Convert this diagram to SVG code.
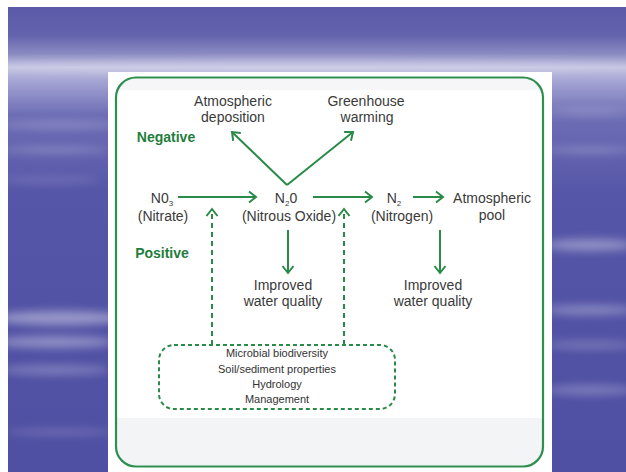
<svg xmlns="http://www.w3.org/2000/svg" width="626" height="472" viewBox="0 0 626 472">
<defs>
<linearGradient id="bg" x1="0" y1="0" x2="0" y2="1" gradientUnits="objectBoundingBox">
<stop offset="0" stop-color="#5a5aa8"/>
<stop offset="0.06" stop-color="#6262ad"/>
<stop offset="0.1" stop-color="#8a8ac2"/>
<stop offset="0.13" stop-color="#c3c3e2"/>
<stop offset="0.16" stop-color="#a4a4d3"/>
<stop offset="0.23" stop-color="#6e6eb6"/>
<stop offset="0.4" stop-color="#5656a8"/>
<stop offset="1" stop-color="#4f4fa3"/>
</linearGradient>
<filter id="blur" x="-50%" y="-300%" width="200%" height="700%"><feGaussianBlur stdDeviation="5 4"/></filter>
<clipPath id="inner"><rect x="117" y="78.5" width="425" height="387" rx="19"/></clipPath>
<marker id="ah" viewBox="-9 -7 11 14" refX="0" refY="0" markerWidth="11" markerHeight="14" markerUnits="userSpaceOnUse" orient="auto">
<path d="M-7,-5.5 L0,0 L-7,5.5" fill="none" stroke="#2a8a48" stroke-width="2" stroke-linejoin="miter"/>
</marker>
</defs>
<style>
.lbl{font-family:"Liberation Sans","DejaVu Sans",sans-serif;font-size:14px;fill:#3a3a3a;text-anchor:middle}
.sub{font-size:8px}
.grn{font-family:"Liberation Sans","DejaVu Sans",sans-serif;font-size:14px;font-weight:bold;fill:#1f7d3c;text-anchor:middle}
.box{font-family:"Liberation Sans","DejaVu Sans",sans-serif;font-size:11px;fill:#333;text-anchor:middle}
.ar{fill:none;stroke:#2a8a48;stroke-width:2;marker-end:url(#ah)}
.da{fill:none;stroke:#2a8a48;stroke-width:2;stroke-dasharray:5 4;marker-end:url(#ah)}
</style>
<rect width="626" height="472" fill="#ffffff"/>
<rect x="8" y="7" width="618" height="465" fill="url(#bg)"/>
<g filter="url(#blur)" fill="#ffffff">
<ellipse cx="300" cy="66" rx="340" ry="6" opacity="0.2"/>
<ellipse cx="60" cy="125" rx="60" ry="3" opacity="0.25"/>
<ellipse cx="55" cy="150" rx="55" ry="3" opacity="0.25"/>
<ellipse cx="50" cy="180" rx="50" ry="3" opacity="0.15"/>
<ellipse cx="60" cy="318" rx="65" ry="7" opacity="0.4"/>
<ellipse cx="55" cy="342" rx="60" ry="6" opacity="0.35"/>
<ellipse cx="55" cy="370" rx="55" ry="5" opacity="0.25"/>
<ellipse cx="60" cy="432" rx="55" ry="3" opacity="0.2"/>
<ellipse cx="590" cy="112" rx="45" ry="3" opacity="0.25"/>
<ellipse cx="590" cy="150" rx="45" ry="3" opacity="0.25"/>
<ellipse cx="590" cy="245" rx="45" ry="6" opacity="0.35"/>
<ellipse cx="590" cy="310" rx="45" ry="5" opacity="0.3"/>
<ellipse cx="590" cy="345" rx="45" ry="4" opacity="0.22"/>
<ellipse cx="590" cy="390" rx="45" ry="5" opacity="0.25"/>
</g>
<rect x="108" y="72" width="444" height="400" fill="#ffffff"/>
<g clip-path="url(#inner)">
<rect x="117" y="78" width="425" height="12" fill="#f6f6f8"/>
<rect x="117" y="418" width="425" height="50" fill="#f3f4f6"/>
</g>
<rect id="frame" x="116" y="77.5" width="427" height="389" rx="20" fill="none" stroke="#2e8f50" stroke-width="2.2"/>

<g id="connectors">
<path class="ar" d="M178,197 L256,197"/>
<path class="ar" d="M313,197 L372,197"/>
<path class="ar" d="M413,197 L443,197"/>
<path class="ar" d="M287,185 L232,132"/>
<path class="ar" d="M287,185 L353,132"/>
<path class="ar" d="M288,230 L288,273"/>
<path class="ar" d="M440,230 L440,273"/>
<path class="da" d="M212,345 L212,209"/>
<path class="da" d="M344,345 L344,209"/>
</g>

<g id="atm-deposition"><text class="lbl" x="233" y="106">Atmospheric</text><text class="lbl" x="233" y="122">deposition</text></g>
<g id="greenhouse"><text class="lbl" x="366" y="106">Greenhouse</text><text class="lbl" x="367" y="122">warming</text></g>
<g id="negative"><text class="grn" x="166" y="142">Negative</text></g>
<g id="positive"><text class="grn" x="162" y="258">Positive</text></g>
<g id="nitrate"><text class="lbl" x="162" y="203">N0<tspan class="sub" dy="3">3</tspan></text><text class="lbl" x="163" y="221">(Nitrate)</text></g>
<g id="nitrous-oxide"><text class="lbl" x="286" y="203">N<tspan class="sub" dy="3">2</tspan><tspan dy="-3">0</tspan></text><text class="lbl" x="289" y="221">(Nitrous Oxide)</text></g>
<g id="nitrogen"><text class="lbl" x="394" y="203">N<tspan class="sub" dy="3">2</tspan></text><text class="lbl" x="402" y="221">(Nitrogen)</text></g>
<g id="atm-pool"><text class="lbl" x="492" y="203">Atmospheric</text><text class="lbl" x="492" y="220">pool</text></g>
<g id="water-quality-1"><text class="lbl" x="283" y="290">Improved</text><text class="lbl" x="283" y="306">water quality</text></g>
<g id="water-quality-2"><text class="lbl" x="433" y="290">Improved</text><text class="lbl" x="433" y="306">water quality</text></g>
<g id="factors">
<rect x="159" y="345" width="236" height="64" rx="15" fill="none" stroke="#2a8a48" stroke-width="2" stroke-dasharray="4 3"/>
<text class="box" x="277" y="357">Microbial biodiversity</text>
<text class="box" x="277" y="373">Soil/sediment properties</text>
<text class="box" x="277" y="388">Hydrology</text>
<text class="box" x="277" y="403">Management</text>
</g>
</svg>
